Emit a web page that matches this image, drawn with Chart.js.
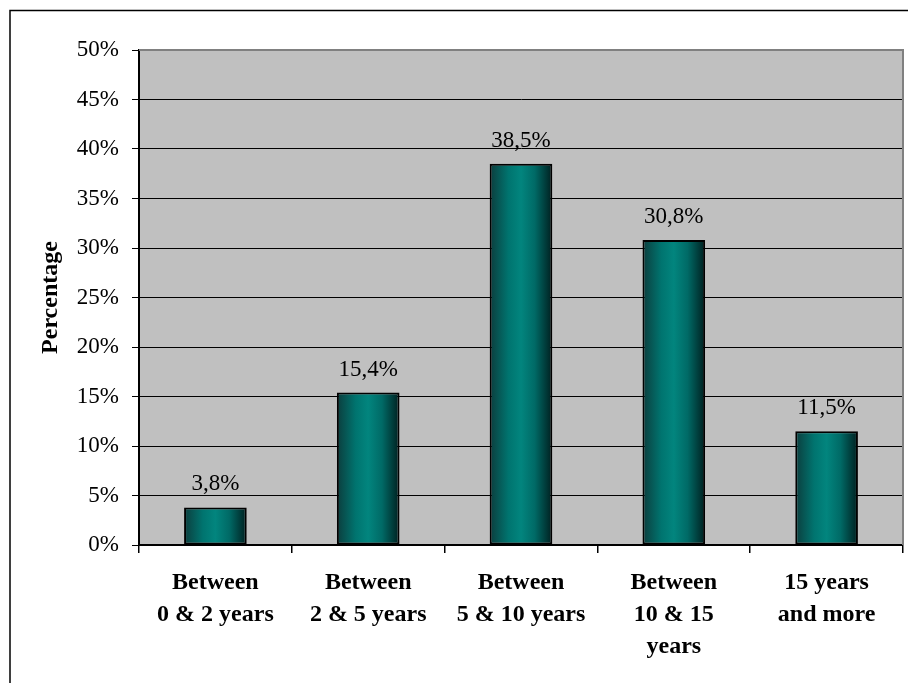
<!DOCTYPE html>
<html>
<head>
<meta charset="utf-8">
<script src="https://cdn.jsdelivr.net/npm/chart.js@4.4.1/dist/chart.umd.min.js"></script>
<style>
  html, body { margin: 0; padding: 0; background: #fff; }
  #wrap { width: 908px; height: 683px; }
</style>
</head>
<body>
<div id="wrap"><canvas id="grafico" width="908" height="683"></canvas></div>
<script>
const categorias = [
  ['Between', '0 & 2 years'],
  ['Between', '2 & 5 years'],
  ['Between', '5 & 10 years'],
  ['Between', '10 & 15', 'years'],
  ['15 years', 'and more']
];
const percentuais = [3.8, 15.4, 38.5, 30.8, 11.5];
const ticksY = [0, 5, 10, 15, 20, 25, 30, 35, 40, 45, 50];
const tituloY = 'Percentage';

const serif = '"Liberation Serif", "Times New Roman", serif';
const larguraBarra = 0.41;

function formatar(v) {
  return v.toFixed(1).replace('.', ',') + '%';
}

// fundo, moldura e área do gráfico
const fundo = {
  id: 'fundo',
  beforeDraw(chart) {
    const ctx = chart.ctx;
    const a = chart.chartArea;
    ctx.save();
    ctx.fillStyle = '#fff';
    ctx.fillRect(0, 0, chart.width, chart.height);
    ctx.strokeStyle = '#000';
    ctx.lineWidth = 1.5;
    ctx.strokeRect(10, 10.5, chart.width + 20, chart.height + 20);
    ctx.fillStyle = '#c0c0c0';
    ctx.fillRect(a.left, a.top, a.right - a.left, a.bottom - a.top);
    ctx.restore();
  },
  afterDraw(chart) {
    const ctx = chart.ctx;
    const a = chart.chartArea;
    ctx.save();
    ctx.strokeStyle = '#808080';
    ctx.lineWidth = 2;
    ctx.beginPath();
    ctx.moveTo(a.left, a.top);
    ctx.lineTo(a.right, a.top);
    ctx.lineTo(a.right, a.bottom);
    ctx.stroke();
    ctx.restore();
  }
};

// gradiente horizontal de cada barra
function corBarra(c) {
  const chart = c.chart;
  const xs = chart.scales.x;
  if (!chart.chartArea || !xs || c.dataIndex === undefined) return '#008080';
  const centro = xs.getPixelForValue(c.dataIndex);
  const w = (xs.width / categorias.length) * larguraBarra;
  const g = chart.ctx.createLinearGradient(centro - w / 2, 0, centro + w / 2, 0);
  g.addColorStop(0, '#0c3d3d');
  g.addColorStop(0.3, '#00746f');
  g.addColorStop(0.5, '#02857e');
  g.addColorStop(0.72, '#006a66');
  g.addColorStop(1, '#001f1f');
  return g;
}

// rótulos acima das barras
const rotulos = {
  id: 'rotulos',
  afterDatasetsDraw(chart) {
    const ctx = chart.ctx;
    ctx.save();
    ctx.font = '23px ' + serif;
    ctx.fillStyle = '#000';
    ctx.textAlign = 'center';
    ctx.textBaseline = 'alphabetic';
    chart.getDatasetMeta(0).data.forEach((bar, i) => {
      ctx.fillText(formatar(percentuais[i]), bar.x, bar.y - 17);
    });
    ctx.restore();
  }
};

const ctx = document.getElementById('grafico').getContext('2d');
const chart = new Chart(ctx, {
  type: 'bar',
  data: {
    labels: categorias,
    datasets: [{
      data: percentuais,
      backgroundColor: corBarra,
      borderColor: '#000',
      borderWidth: 2,
      borderSkipped: false,
      barPercentage: larguraBarra,
      categoryPercentage: 1
    }]
  },
  options: {
    responsive: false,
    animation: false,
    layout: { padding: { left: 0, top: 50, right: 5, bottom: 0 } },
    plugins: {
      legend: { display: false },
      tooltip: { enabled: false }
    },
    scales: {
      x: {
        offset: true,
        grid: {
          offset: true,
          drawOnChartArea: false,
          drawTicks: true,
          tickLength: 8,
          color: '#000',
          lineWidth: 1.5
        },
        border: { color: '#000', width: 2 },
        ticks: {
          color: '#000',
          padding: 14,
          maxRotation: 0,
          autoSkip: false,
          font: { family: serif, size: 24, weight: 'bold', lineHeight: 1.33 }
        },
        afterFit(scale) { scale.height = 138; }
      },
      y: {
        min: 0,
        max: 50,
        afterBuildTicks(scale) {
          scale.ticks = ticksY.map(v => ({ value: v }));
        },
        grid: {
          color: c => (c.tick && c.tick.value === 50 ? 'rgba(0,0,0,0)' : '#000'),
          tickColor: '#000',
          lineWidth: 1,
          tickLength: 7
        },
        border: { color: '#000', width: 2 },
        ticks: {
          color: '#000',
          padding: 13,
          font: { family: serif, size: 23 },
          callback: v => v + '%'
        },
        title: {
          display: true,
          text: tituloY,
          color: '#000',
          padding: { top: 36, bottom: 0 },
          font: { family: serif, size: 24, weight: 'bold', lineHeight: 1.2 }
        },
        afterFit(scale) { scale.width = 139; }
      }
    }
  },
  plugins: [fundo, rotulos]
});
</script>
</body>
</html>
